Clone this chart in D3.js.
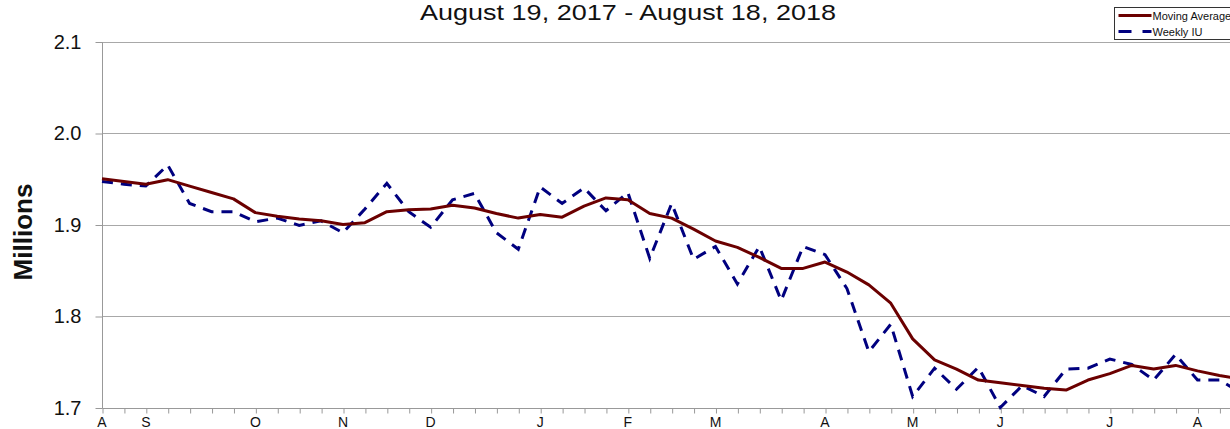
<!DOCTYPE html>
<html>
<head>
<meta charset="utf-8">
<script src="https://cdn.jsdelivr.net/npm/d3@7.9.0/dist/d3.min.js"></script>
<style>
  html, body { margin: 0; padding: 0; background: #fff; }
  svg { display: block; font-family: "Liberation Sans", Arial, sans-serif; }
</style>
</head>
<body>
<svg id="chart" width="1230" height="429"></svg>
<script>
// weekly values, Aug 19 2017 .. Aug 18 2018 (millions)
const movingAvg = [
  1.950, 1.947, 1.944, 1.949, 1.942, 1.935, 1.928, 1.913, 1.909, 1.906,
  1.904, 1.900, 1.902, 1.914, 1.916, 1.917, 1.921, 1.918, 1.912, 1.907,
  1.911, 1.908, 1.920, 1.929, 1.927, 1.912, 1.907, 1.895, 1.882, 1.875,
  1.864, 1.852, 1.852, 1.859, 1.848, 1.834, 1.814, 1.775, 1.752, 1.742,
  1.730, 1.727, 1.724, 1.721, 1.719, 1.730, 1.737, 1.746, 1.742, 1.746,
  1.740, 1.735, 1.731
];
const weeklyIU = [
  1.947, 1.944, 1.942, 1.965, 1.923, 1.914, 1.914, 1.903, 1.907, 1.899,
  1.904, 1.891, 1.917, 1.945, 1.914, 1.897, 1.927, 1.934, 1.891, 1.873,
  1.941, 1.923, 1.940, 1.915, 1.935, 1.863, 1.923, 1.862, 1.876, 1.835,
  1.876, 1.817, 1.876, 1.867, 1.830, 1.761, 1.791, 1.712, 1.743, 1.720,
  1.744, 1.700, 1.724, 1.712, 1.742, 1.743, 1.753, 1.747, 1.730, 1.758,
  1.730, 1.730, 1.716
];
const yTicks = [1.7, 1.8, 1.9, 2.0, 2.1];
const monthTickDates = ["2017-08-19", "2017-09-02", "2017-10-07", "2017-11-04", "2017-12-02",
  "2018-01-06", "2018-02-03", "2018-03-03", "2018-04-07", "2018-05-05", "2018-06-02",
  "2018-07-07", "2018-08-04"];
const monthTickLabels = ["A", "S", "O", "N", "D", "J", "F", "M", "A", "M", "J", "J", "A"];
const seriesNames = ["Moving Average", "Weekly IU"];

const parse = d3.utcParse("%Y-%m-%d");
const startDate = parse("2017-08-19");
const endDate = parse("2018-08-18");
const weeks = d3.utcSaturday.range(startDate, d3.utcDay.offset(endDate, 1));

const svg = d3.select("#chart");

const x = d3.scaleUtc().domain([startDate, endDate]).range([102, 102 + 52 * 21.91]);
const y = d3.scaleLinear().domain([1.7, 2.1]).range([407.5, 41.5]);

// gridlines
svg.append("g")
  .selectAll("line")
  .data(yTicks.slice(1))
  .join("line")
  .attr("x1", 102).attr("x2", 1230)
  .attr("y1", d => Math.round(y(d)) + 0.5)
  .attr("y2", d => Math.round(y(d)) + 0.5)
  .attr("stroke", "#a8a8a8")
  .attr("stroke-width", 1);

// y axis
const yAxis = svg.append("g")
  .attr("transform", "translate(102.5,0.5)")
  .call(d3.axisLeft(y).tickValues(yTicks).tickFormat(d3.format(".1f")).tickSize(7).tickPadding(14));
yAxis.select(".domain").attr("stroke", "#999").attr("d", `M0,${Math.round(y(2.1))}V${Math.round(y(1.7))}`);
yAxis.selectAll(".tick line").attr("stroke", "#999");
yAxis.selectAll(".tick text")
  .attr("font-size", 20)
  .attr("fill", "#111")
  .attr("font-family", "Liberation Sans, Arial, sans-serif");

// x axis with weekly ticks
const xAxis = svg.append("g")
  .attr("transform", `translate(0.5,${Math.round(y(1.7)) + 0.5})`)
  .call(d3.axisBottom(x).tickValues(weeks).tickSize(5).tickFormat(""));
xAxis.select(".domain").attr("stroke", "#999").attr("d", `M${x(startDate)},0H1240`);
xAxis.selectAll(".tick line").attr("stroke", "#999");

svg.append("g")
  .selectAll("text")
  .data(monthTickDates)
  .join("text")
  .attr("x", d => x(parse(d)))
  .attr("y", 427)
  .attr("text-anchor", "middle")
  .attr("font-size", 14)
  .attr("fill", "#111")
  .text((d, i) => monthTickLabels[i]);

// lines
const line = d3.line()
  .x((d, i) => x(weeks[i]))
  .y(d => y(d));

svg.append("path")
  .datum(weeklyIU)
  .attr("d", line)
  .attr("fill", "none")
  .attr("stroke", "#00007f")
  .attr("stroke-width", 3)
  .attr("stroke-dasharray", "11,8");

svg.append("path")
  .datum(movingAvg)
  .attr("d", line)
  .attr("fill", "none")
  .attr("stroke", "#6b0000")
  .attr("stroke-width", 3)
  .attr("stroke-linejoin", "round");

// title
svg.append("text")
  .attr("x", 628)
  .attr("y", 20)
  .attr("text-anchor", "middle")
  .attr("font-size", 22)
  .attr("fill", "#111")
  .attr("textLength", 416)
  .attr("lengthAdjust", "spacingAndGlyphs")
  .text("August 19, 2017 - August 18, 2018");

// y label
svg.append("text")
  .attr("transform", "translate(32,232) rotate(-90)")
  .attr("text-anchor", "middle")
  .attr("font-size", 26)
  .attr("font-weight", "bold")
  .attr("fill", "#111")
  .text("Millions");

// legend
const legend = svg.append("g").attr("transform", "translate(1114.5,7.5)");
legend.append("rect")
  .attr("width", 130).attr("height", 32)
  .attr("fill", "#fff").attr("stroke", "#333").attr("stroke-width", 1);
const items = legend.selectAll("g.item")
  .data(seriesNames)
  .join("g")
  .attr("class", "item")
  .attr("transform", (d, i) => `translate(0,${8 + i * 16})`);
items.append("line")
  .attr("x1", 4).attr("x2", 37)
  .attr("stroke", (d, i) => i === 0 ? "#6b0000" : "#00007f")
  .attr("stroke-width", 3)
  .attr("stroke-dasharray", (d, i) => i === 0 ? null : "13,11");
items.append("text")
  .attr("x", 38).attr("y", 4)
  .attr("font-size", 11)
  .attr("fill", "#111")
  .text(d => d);
</script>
</body>
</html>
